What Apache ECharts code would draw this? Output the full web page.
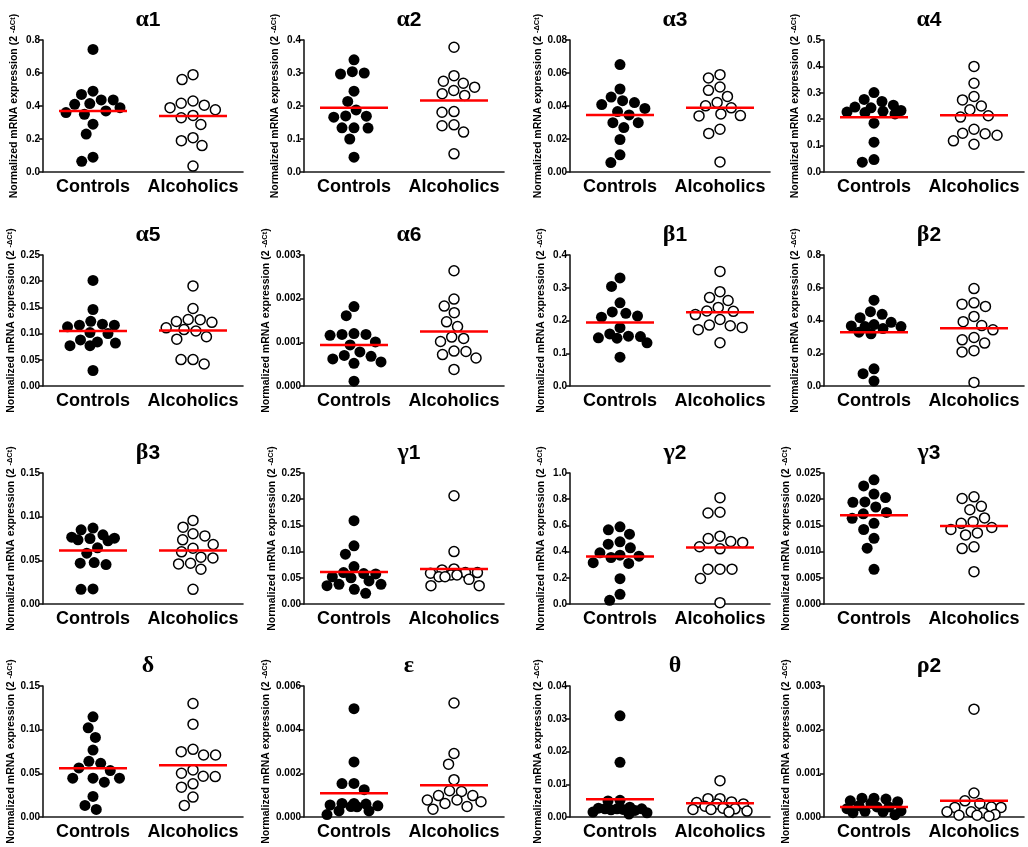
<!DOCTYPE html>
<html><head><meta charset="utf-8">
<script src="https://cdn.jsdelivr.net/npm/echarts@6/dist/echarts.min.js"></script>
<style>html,body{margin:0;padding:0;background:#fff;overflow:hidden;width:1028px;height:847px}#c{width:1028px;height:847px}</style>
</head><body><div id="c"></div>
<script>
const categories = ['Controls', 'Alcoholics'];
const panelTitles = ['α1','α2','α3','α4','α5','α6','β1','β2','β3','γ1','γ2','γ3','δ','ε','θ','ρ2'];
const yMax   = [0.8, 0.4, 0.08, 0.5, 0.25, 0.003, 0.4, 0.8, 0.15, 0.25, 1.0, 0.025, 0.15, 0.006, 0.04, 0.003];
const yStep  = [0.2, 0.1, 0.02, 0.1, 0.05, 0.001, 0.1, 0.2, 0.05, 0.05, 0.2, 0.005, 0.05, 0.002, 0.01, 0.001];
const yDecimals = [1, 1, 2, 1, 2, 3, 1, 1, 2, 2, 1, 3, 2, 3, 2, 3];

const controls = [
  [0.743,0.49,0.47,0.437,0.437,0.415,0.41,0.39,0.37,0.36,0.35,0.29,0.23,0.09,0.065],
  [0.34,0.304,0.30,0.297,0.245,0.214,0.188,0.17,0.169,0.166,0.134,0.134,0.133,0.10,0.045],
  [0.0651,0.0503,0.0454,0.0432,0.0421,0.0409,0.0385,0.0366,0.0346,0.0299,0.0299,0.0269,0.0197,0.0104,0.0057],
  [0.301,0.275,0.267,0.253,0.246,0.243,0.233,0.230,0.227,0.225,0.220,0.185,0.113,0.047,0.037],
  [0.2015,0.146,0.1235,0.118,0.116,0.116,0.113,0.102,0.100,0.088,0.084,0.082,0.077,0.077,0.0296],
  [0.00182,0.00161,0.0012,0.00118,0.00118,0.00116,0.00101,0.00094,0.00078,0.0007,0.00068,0.00062,0.00055,0.00052,0.00011],
  [0.330,0.304,0.254,0.226,0.222,0.2136,0.21,0.178,0.159,0.152,0.151,0.147,0.146,0.132,0.088],
  [0.524,0.454,0.4375,0.417,0.389,0.375,0.367,0.363,0.363,0.351,0.329,0.319,0.105,0.075,0.03],
  [0.0869,0.085,0.0792,0.0765,0.0754,0.075,0.0735,0.0723,0.0643,0.0582,0.0474,0.0467,0.0452,0.0172,0.0168],
  [0.159,0.111,0.095,0.0714,0.06,0.058,0.0574,0.052,0.05,0.044,0.0376,0.0376,0.035,0.028,0.0204],
  [0.589,0.566,0.533,0.475,0.457,0.429,0.391,0.373,0.365,0.355,0.315,0.31,0.193,0.074,0.028],
  [0.0237,0.02253,0.02097,0.02032,0.01948,0.01942,0.01851,0.01747,0.01721,0.01636,0.01539,0.01422,0.01253,0.01065,0.00662],
  [0.1147,0.1021,0.0911,0.0767,0.0638,0.0615,0.0562,0.0532,0.0444,0.0444,0.0444,0.0399,0.0235,0.0133,0.0087],
  [0.00496,0.00252,0.00154,0.00153,0.00125,0.00062,0.00062,0.00059,0.00055,0.00051,0.00048,0.00047,0.00028,0.00028,0.00011],
  [0.0309,0.0167,0.0051,0.0049,0.003,0.0027,0.0025,0.0025,0.0025,0.0023,0.0022,0.002,0.0015,0.0013,0.0009],
  [0.00043,0.00043,0.00041,0.00037,0.00035,0.00031,0.00026,0.00023,0.00023,0.00019,0.00014,0.00013,0.00012,0.0001,0.00005]
];
const alcoholics = [
  [0.59,0.56,0.43,0.417,0.405,0.39,0.377,0.343,0.329,0.288,0.208,0.19,0.16,0.036],
  [0.378,0.292,0.275,0.269,0.257,0.247,0.237,0.232,0.183,0.181,0.143,0.14,0.121,0.055],
  [0.059,0.057,0.0515,0.0495,0.0458,0.0421,0.0401,0.0389,0.0352,0.0342,0.034,0.0259,0.0234,0.0061],
  [0.40,0.336,0.286,0.273,0.25,0.236,0.213,0.208,0.162,0.147,0.145,0.139,0.118,0.105],
  [0.191,0.148,0.127,0.1266,0.123,0.1215,0.111,0.1077,0.105,0.094,0.0894,0.0504,0.0504,0.042],
  [0.00264,0.00199,0.00183,0.00168,0.00147,0.00136,0.00112,0.00109,0.00102,0.0008,0.00079,0.00072,0.00064,0.00038],
  [0.35,0.288,0.27,0.261,0.24,0.229,0.228,0.218,0.203,0.186,0.184,0.179,0.172,0.132],
  [0.595,0.508,0.5,0.486,0.425,0.393,0.369,0.343,0.296,0.282,0.262,0.216,0.208,0.022],
  [0.0957,0.088,0.0804,0.078,0.0735,0.0681,0.0639,0.0597,0.0536,0.0528,0.0467,0.0459,0.0398,0.0168],
  [0.2066,0.100,0.067,0.065,0.06,0.06,0.0587,0.0555,0.0555,0.052,0.052,0.047,0.035,0.035],
  [0.812,0.70,0.695,0.518,0.50,0.477,0.47,0.437,0.421,0.266,0.266,0.266,0.195,0.01],
  [0.02045,0.02013,0.01864,0.01799,0.01643,0.01571,0.01539,0.01461,0.01422,0.01357,0.01318,0.01091,0.01058,0.00617],
  [0.1299,0.1063,0.0775,0.0748,0.071,0.071,0.0539,0.0501,0.0467,0.0463,0.038,0.0342,0.0228,0.0133],
  [0.00522,0.00291,0.00242,0.00171,0.0012,0.00117,0.00098,0.00098,0.00078,0.00078,0.0007,0.00062,0.00048,0.00036],
  [0.0111,0.0056,0.0056,0.0046,0.0044,0.004,0.004,0.0033,0.0027,0.0025,0.0023,0.0023,0.0018,0.0015],
  [0.00247,0.00055,0.00037,0.00031,0.00023,0.00022,0.00022,0.00012,0.00012,0.0001,0.00006,0.00004,0.00004,0.00002]
];
const controlMeans    = [0.369,0.195,0.0346,0.207,0.105,0.00094,0.194,0.329,0.0612,0.0612,0.363,0.01695,0.0558,0.00109,0.0054,0.00023];
const alcoholicMeans  = [0.339,0.217,0.0389,0.215,0.106,0.00125,0.225,0.353,0.0612,0.067,0.431,0.01487,0.0592,0.00145,0.0042,0.00037];

// ---- layout ----
const FONT = 'Liberation Sans, Arial, sans-serif';
const colLeft = [43, 304, 570, 824];
const rowTop = [40, 255, 473, 686];
const rowH = [132, 131, 131, 131];
const W = 200;
const XMAX = 4;          // hidden value axis spans 0..4, categories sit at 1 and 3
const HALF_LINE = 0.68;  // half width of mean line in x units
const DOT = 12;          // collision diameter (px) for swarm placement
const MAXW = 27;         // max half-width (px) of a swarm

function swarm(values, center, max, H) {
  const pxPerUnit = W / XMAX;
  const placed = [];
  return values.map(v => {
    const y = v / max * H;
    const near = placed.filter(p => Math.abs(p.y - y) < DOT);
    const cands = [0];
    near.forEach(p => {
      const dx = Math.sqrt(DOT * DOT - (p.y - y) * (p.y - y));
      cands.push(p.x - dx, p.x + dx);
    });
    cands.sort((a, b) => Math.abs(a) - Math.abs(b) || a - b);
    let x = cands.find(cx => Math.abs(cx) <= MAXW &&
      near.every(p => (cx - p.x) ** 2 + (p.y - y) ** 2 >= DOT * DOT - 0.01));
    if (x === undefined) {
      let best = 0, bestD = -1;
      for (let cx = -MAXW; cx <= MAXW + 0.01; cx += DOT / 2) {
        const d = Math.min(...placed.map(p => Math.hypot(cx - p.x, p.y - y)));
        if (d > bestD + 0.01 || (Math.abs(d - bestD) <= 0.01 && Math.abs(cx) < Math.abs(best))) { bestD = d; best = cx; }
      }
      x = best;
    }
    placed.push({ x, y });
    return [center + x / pxPerUnit, v];
  });
}

const grid = [], xAxis = [], yAxis = [], series = [], title = [];
panelTitles.forEach((t, i) => {
  const r = Math.floor(i / 4), c = i % 4;
  const H = rowH[r];
  grid.push({ left: colLeft[c], top: rowTop[r], width: W, height: H });
  xAxis.push({
    gridIndex: i, type: 'category', data: categories, boundaryGap: true,
    axisLine: { lineStyle: { color: '#1a1a1a', width: 1.6 } },
    axisTick: { alignWithLabel: true, length: 4, lineStyle: { color: '#1a1a1a', width: 1.6 } },
    axisLabel: { interval: 0, hideOverlap: false, fontSize: 18, fontWeight: 'bold', color: '#000', margin: 6, fontFamily: FONT },
    splitLine: { show: false }
  });
  xAxis.push({ gridIndex: i, type: 'value', min: 0, max: XMAX, show: false });
  const dec = yDecimals[i];
  yAxis.push({
    gridIndex: i, type: 'value', min: 0, max: yMax[i], interval: yStep[i],
    splitLine: { show: false },
    axisLine: { show: true, lineStyle: { color: '#1a1a1a', width: 1.6 } },
    axisTick: { show: true, length: 4, lineStyle: { color: '#1a1a1a', width: 1.6 } },
    axisLabel: { formatter: v => v.toFixed(dec), fontSize: 10, fontWeight: 'bold', color: '#000', margin: 3, fontFamily: FONT },
    name: 'Normalized mRNA expression (2 {s|-ΔCt})',
    nameLocation: 'middle', nameRotate: 90, nameGap: 23,
    nameTextStyle: {
      fontSize: 10.5, fontWeight: 'bold', color: '#000', fontFamily: FONT,
      rich: { s: { fontSize: 7.5, fontWeight: 'bold', color: '#000', fontFamily: FONT, verticalAlign: 'top' } }
    }
  });
  series.push({
    type: 'scatter', xAxisIndex: 2 * i + 1, yAxisIndex: i,
    data: swarm(controls[i], 1, yMax[i], H),
    symbolSize: 11, itemStyle: { color: '#000', opacity: 1 }, z: 3
  });
  series.push({
    type: 'scatter', xAxisIndex: 2 * i + 1, yAxisIndex: i,
    data: swarm(alcoholics[i], 3, yMax[i], H),
    symbolSize: 10, itemStyle: { color: '#fff', borderColor: '#000', borderWidth: 1.5, opacity: 1 }, z: 3
  });
  [[1, controlMeans[i]], [3, alcoholicMeans[i]]].forEach(([cx, m]) => {
    series.push({
      type: 'line', xAxisIndex: 2 * i + 1, yAxisIndex: i,
      data: [[cx - HALF_LINE, m], [cx + HALF_LINE, m]],
      symbol: 'none', lineStyle: { color: '#ff0000', width: 2.5 }, z: 5, silent: true
    });
  });
  const g = t.charAt(0), rest = t.slice(1);
  title.push({
    text: rest ? `{g|${g}}{n|${rest}}` : `{g|${g}}`,
    left: colLeft[c] + W / 2, top: rowTop[r] - 37, textAlign: 'center',
    textStyle: {
      rich: {
        g: { fontFamily: 'Liberation Serif, Times New Roman, serif', fontSize: 24, color: '#000' },
        n: { fontFamily: FONT, fontWeight: 'bold', fontSize: 21, color: '#000' }
      }
    }
  });
});

const chart = echarts.init(document.getElementById('c'), null, { renderer: 'canvas' });
chart.setOption({ animation: false, backgroundColor: '#fff', title, grid, xAxis, yAxis, series });
</script>
</body></html>
